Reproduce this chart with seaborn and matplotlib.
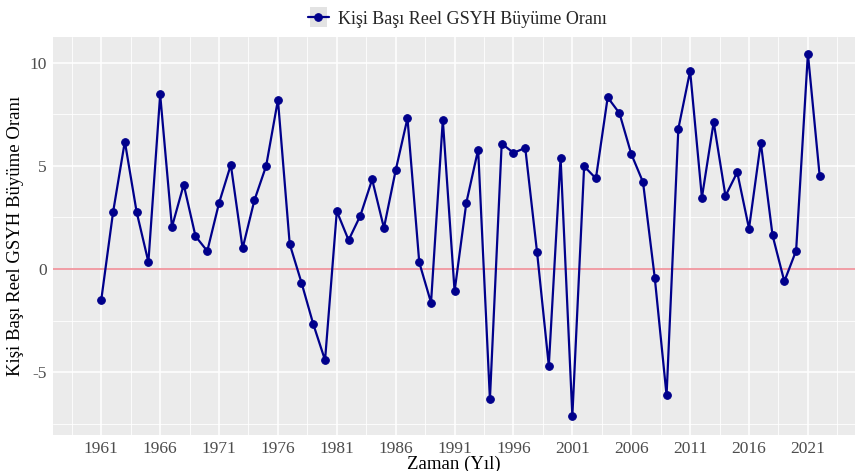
import numpy as np
import pandas as pd
import matplotlib
matplotlib.use("Agg")
import matplotlib.pyplot as plt
from matplotlib.patches import Rectangle
import seaborn as sns

# Kişi başı reel GSYH büyüme oranı (%), 1961-2022
years = list(range(1961, 2023))
growth = [
    -1.49, 2.75, 6.18, 2.77, 0.34, 8.46, 2.04, 4.09, 1.59, 0.87,
    3.20, 5.05, 1.00, 3.33, 5.00, 8.20, 1.21, -0.66, -2.67, -4.42,
    2.80, 1.40, 2.59, 4.34, 1.99, 4.79, 7.31, 0.32, -1.63, 7.23,
    -1.08, 3.22, 5.79, -6.31, 6.08, 5.63, 5.87, 0.83, -4.69, 5.40,
    -7.12, 4.98, 4.39, 8.32, 7.55, 5.58, 4.21, -0.44, -6.12, 6.80,
    9.60, 3.46, 7.12, 3.54, 4.69, 1.96, 6.13, 1.63, -0.60, 0.89,
    10.44, 4.51,
]
xticks = list(range(1961, 2022, 5))
yticks = [-5, 0, 5, 10]
series_name = "Kişi Başı Reel GSYH Büyüme Oranı"

df = pd.DataFrame({"Yil": years, "Buyume": growth})

sns.set_style("darkgrid", {"axes.facecolor": "#EBEBEB", "grid.color": "white"})
plt.rcParams["font.family"] = ["Liberation Serif", "DejaVu Serif"]
plt.rcParams["axes.unicode_minus"] = False

fig = plt.figure(figsize=(8.55, 4.71), dpi=100)
ax = fig.add_axes([53 / 855, 36.3 / 471, 1 - 53 / 855, (434.7 - 36.7) / 471])

# minor grid
for x in np.arange(1958.5, 2026, 5):
    ax.axvline(x, color="white", lw=0.6, zorder=0)
for y in [-7.5, -2.5, 2.5, 7.5]:
    ax.axhline(y, color="white", lw=0.6, zorder=0)

ax.axhline(0, color="#F0959E", lw=1.3, zorder=1)

sns.lineplot(data=df, x="Yil", y="Buyume", ax=ax, color="#00008B", lw=1.6,
             marker="o", markersize=5.5, markeredgecolor="#00008B",
             label=series_name, zorder=3)

ax.set_xlim(1956.9, 2025.0)
ax.set_ylim(-8.03, 11.26)
ax.set_xticks(xticks)
ax.set_yticks(yticks)
ax.grid(True, color="white", lw=1.1, zorder=0)
ax.set_axisbelow(True)
for s in ax.spines.values():
    s.set_visible(False)
ax.tick_params(axis="both", which="major", length=3, width=0.8, color="#333333",
               labelsize=12.5, labelcolor="#4D4D4D", pad=1.5)
ax.set_xlabel("Zaman (Yıl)", fontsize=13.5, color="black")
ax.xaxis.set_label_coords(0.5, -0.052)
ax.set_ylabel(series_name, fontsize=13.5, color="black", labelpad=4)

handles, labels = ax.get_legend_handles_labels()
ax.get_legend().remove()
leg = fig.legend(handles, labels, loc="upper center", bbox_to_anchor=(0.535, 1.012),
                 frameon=False, fontsize=13, handlelength=1.2, handletextpad=0.5)

fig.canvas.draw()
hb = leg.legend_handles[0].get_window_extent(fig.canvas.get_renderer())
inv = fig.transFigure.inverted()
cx, cy = inv.transform(((hb.x0 + hb.x1) / 2, (hb.y0 + hb.y1) / 2))
w, h = 17 / 855, 20 / 471
fig.patches.append(Rectangle((cx - w / 2, cy - h / 2), w, h, transform=fig.transFigure,
                             facecolor="#E3E3E3", edgecolor="none", zorder=-1))

fig.savefig("out.png", dpi=100)
